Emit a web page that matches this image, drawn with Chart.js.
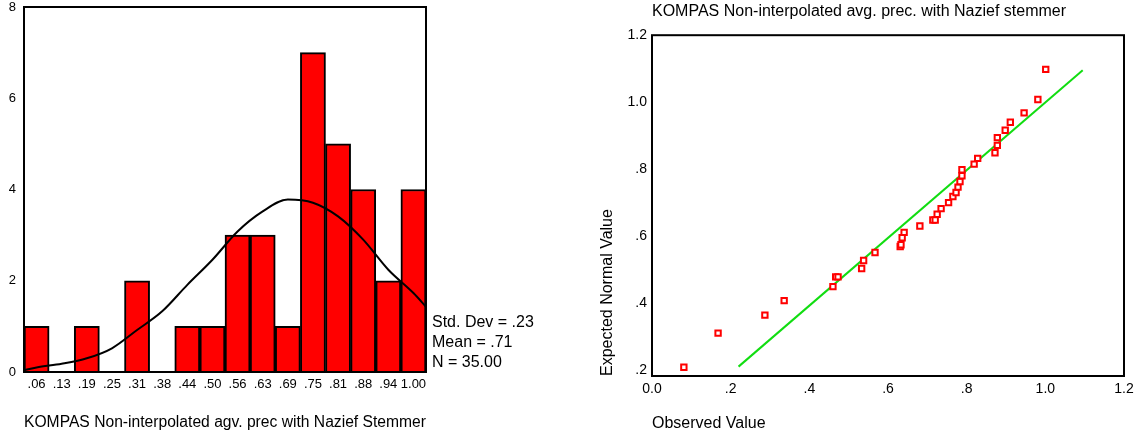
<!DOCTYPE html>
<html>
<head>
<meta charset="utf-8">
<script src="https://cdn.jsdelivr.net/npm/chart.js@4/dist/chart.umd.min.js"></script>
<style>
  body { margin: 0; background: #fff; width: 1141px; height: 436px; overflow: hidden; font-family: "Liberation Sans", Arial, sans-serif; }
  #histCanvas { position: absolute; left: 0; top: 0; }
  #qqCanvas { position: absolute; left: 600px; top: 0; }
  #stats { position: absolute; left: 432px; top: 312px; font-size: 16px; line-height: 20px; color: #000; }
</style>
</head>
<body>
<canvas id="histCanvas" width="600" height="436"></canvas>
<canvas id="qqCanvas" width="541" height="436"></canvas>
<div id="stats">Std. Dev = .23<br>Mean = .71<br>N = 35.00</div>
<script>
// histogram data
const binLabels = ['.06', '.13', '.19', '.25', '.31', '.38', '.44', '.50', '.56', '.63', '.69', '.75', '.81', '.88', '.94', '1.00'];
const binCounts = [1, 0, 1, 0, 2, 0, 1, 1, 3, 3, 1, 7, 5, 4, 2, 4];
// normal curve, x in bin positions (edges at -0.5 and 15.5)
const curvePos = [-0.5, 0, 1, 2, 3, 4, 5, 6, 7, 8, 9, 10, 11, 12, 13, 14, 15, 15.5];
const curveVal = [0.04, 0.1, 0.18, 0.30, 0.52, 0.92, 1.33, 1.91, 2.46, 3.08, 3.52, 3.78, 3.71, 3.41, 2.90, 2.24, 1.73, 1.43];
const histTicks = [0, 2, 4, 6, 8];

// Q-Q plot data
const observed = [0.081, 0.168, 0.287, 0.336, 0.460, 0.467, 0.473, 0.533, 0.538, 0.567, 0.631, 0.633, 0.636, 0.641, 0.681, 0.714, 0.720, 0.725, 0.735, 0.754, 0.765, 0.773, 0.778, 0.783, 0.788, 0.788, 0.819, 0.828, 0.872, 0.878, 0.878, 0.898, 0.911, 0.946, 0.981, 1.001];
const expected = [0.208, 0.310, 0.364, 0.407, 0.449, 0.478, 0.478, 0.503, 0.527, 0.551, 0.569, 0.574, 0.595, 0.611, 0.630, 0.648, 0.648, 0.665, 0.682, 0.700, 0.718, 0.730, 0.746, 0.763, 0.780, 0.798, 0.815, 0.832, 0.849, 0.871, 0.894, 0.916, 0.940, 0.968, 1.008, 1.098];
const refLineX = [0.22, 1.095];
const refLineY = [0.21, 1.095];
const qqXTicks = [0, 0.2, 0.4, 0.6, 0.8, 1.0, 1.2];
const qqXLabels = ['0.0', '.2', '.4', '.6', '.8', '1.0', '1.2'];
const qqYTicks = [0.2, 0.4, 0.6, 0.8, 1.0, 1.2];
const qqYLabels = ['.2', '.4', '.6', '.8', '1.0', '1.2'];

const FONT = '"Liberation Sans", Arial, sans-serif';
Chart.defaults.font.family = FONT;
Chart.defaults.color = '#000';

// black box round the plot area
const frame = {
    id: 'frame',
    afterDatasetsDraw(chart) {
        const a = chart.chartArea;
        const ctx = chart.ctx;
        ctx.save();
        ctx.strokeStyle = '#000';
        ctx.lineWidth = 2;
        ctx.strokeRect(a.left, a.top, a.right - a.left, a.bottom - a.top);
        ctx.restore();
    }
};

new Chart(document.getElementById('histCanvas').getContext('2d'), {
    data: {
        labels: binLabels,
        datasets: [{
            type: 'bar',
            data: binCounts,
            backgroundColor: '#ff0000',
            borderColor: '#000',
            borderWidth: 2,
            categoryPercentage: 1,
            barPercentage: 1,
            grouped: false,
            order: 2
        }, {
            type: 'line',
            xAxisID: 'xc',
            data: curvePos.map((p, i) => ({ x: p, y: curveVal[i] })),
            borderColor: '#000',
            borderWidth: 2,
            pointRadius: 0,
            cubicInterpolationMode: 'monotone',
            order: 1
        }]
    },
    options: {
        responsive: false,
        animation: false,
        devicePixelRatio: 1,
        layout: { padding: { top: 7, right: 174, bottom: 0, left: 0 } },
        scales: {
            x: {
                type: 'category',
                grid: { display: false, drawTicks: false },
                border: { display: false },
                ticks: { font: { size: 13 }, padding: 5, maxRotation: 0, autoSkip: false },
                title: {
                    display: true,
                    text: 'KOMPAS Non-interpolated agv. prec with Nazief Stemmer',
                    align: 'start',
                    font: { size: 16 },
                    padding: { top: 0, bottom: 4 }
                },
                afterFit: s => { s.height = 64; }
            },
            xc: {
                type: 'linear',
                display: false,
                min: -0.5,
                max: 15.5
            },
            y: {
                min: 0,
                max: 8,
                grid: { display: false, drawTicks: false },
                border: { display: false },
                ticks: { font: { size: 13 }, padding: 8 },
                afterBuildTicks: s => { s.ticks = histTicks.map(v => ({ value: v })); },
                afterFit: s => {
                    s.width = 24;
                    s.paddingTop = 0;
                    s.paddingBottom = 0;
                }
            }
        },
        plugins: { legend: { display: false }, tooltip: { enabled: false } }
    },
    plugins: [frame]
});

new Chart(document.getElementById('qqCanvas').getContext('2d'), {
    type: 'scatter',
    data: {
        datasets: [{
            data: observed.map((v, i) => ({ x: v, y: expected[i] })),
            pointStyle: 'rect',
            pointRadius: 3.8,
            borderColor: '#ff0000',
            backgroundColor: '#fff',
            borderWidth: 2,
            order: 1
        }, {
            type: 'line',
            data: refLineX.map((v, i) => ({ x: v, y: refLineY[i] })),
            borderColor: '#11dd11',
            borderWidth: 2,
            pointRadius: 0,
            order: 2
        }]
    },
    options: {
        responsive: false,
        animation: false,
        devicePixelRatio: 1,
        layout: { padding: { top: 0, right: 17, bottom: 0, left: 0 } },
        scales: {
            x: {
                type: 'linear',
                min: 0,
                max: 1.2,
                grid: { display: false, drawTicks: false },
                border: { display: false },
                ticks: { font: { size: 14 }, padding: 5, callback: (v, i) => qqXLabels[i] },
                afterBuildTicks: s => { s.ticks = qqXTicks.map(v => ({ value: v })); },
                title: {
                    display: true,
                    text: 'Observed Value',
                    align: 'start',
                    font: { size: 16 },
                    padding: { top: 0, bottom: 3 }
                },
                afterFit: s => { s.height = 60; }
            },
            y: {
                min: 0.182,
                max: 1.2,
                grid: { display: false, drawTicks: false },
                border: { display: false },
                ticks: { font: { size: 14 }, padding: 5, callback: (v, i) => qqYLabels[i] },
                afterBuildTicks: s => { s.ticks = qqYTicks.map(v => ({ value: v })); },
                title: {
                    display: true,
                    text: 'Expected Normal Value',
                    align: 'start',
                    font: { size: 16, lineHeight: 1 },
                    padding: { top: 0, bottom: 0 }
                },
                afterFit: s => { s.width = 52; }
            }
        },
        plugins: {
            legend: { display: false },
            tooltip: { enabled: false },
            title: {
                display: true,
                text: 'KOMPAS Non-interpolated avg. prec. with Nazief stemmer',
                align: 'start',
                fullSize: false,
                color: '#000',
                font: { size: 16, weight: 'normal' },
                padding: { top: 2, bottom: 14 }
            }
        }
    },
    plugins: [frame]
});
</script>
</body>
</html>
